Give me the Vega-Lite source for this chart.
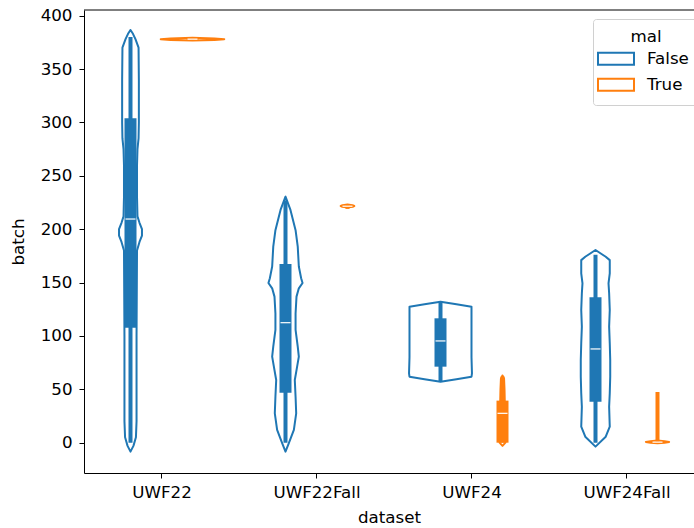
{
  "$schema": "https://vega.github.io/schema/vega-lite/v6.json",
  "width": 610,
  "height": 463,
  "autosize": {"type": "none"},
  "padding": {"left": 84, "top": 10, "right": 0, "bottom": 55},
  "config": {
    "view": {"stroke": null},
    "font": "DejaVu Sans",
    "axis": {
      "labelFont": "DejaVu Sans", "titleFont": "DejaVu Sans",
      "labelFontSize": 16.7, "titleFontSize": 16.7,
      "labelColor": "black", "titleColor": "black", "titleFontWeight": "normal",
      "domainColor": "black", "tickColor": "black", "tickSize": 5, "tickWidth": 1, "domainWidth": 1,
      "grid": false
    },
    "legend": {
      "labelFont": "DejaVu Sans", "titleFont": "DejaVu Sans",
      "labelFontSize": 16.7, "titleFontSize": 16.7, "titleFontWeight": "normal",
      "labelColor": "black", "titleColor": "black"
    }
  },
  "datasets": {
    "violin": [
      {"dataset": "UWF22", "mal": "False", "batch": -8.4, "w": 0},
      {"dataset": "UWF22", "mal": "False", "batch": -3, "w": 0.019},
      {"dataset": "UWF22", "mal": "False", "batch": 5, "w": 0.035},
      {"dataset": "UWF22", "mal": "False", "batch": 20, "w": 0.039},
      {"dataset": "UWF22", "mal": "False", "batch": 100, "w": 0.039},
      {"dataset": "UWF22", "mal": "False", "batch": 180, "w": 0.042},
      {"dataset": "UWF22", "mal": "False", "batch": 188, "w": 0.058},
      {"dataset": "UWF22", "mal": "False", "batch": 194, "w": 0.074},
      {"dataset": "UWF22", "mal": "False", "batch": 200, "w": 0.074},
      {"dataset": "UWF22", "mal": "False", "batch": 206, "w": 0.058},
      {"dataset": "UWF22", "mal": "False", "batch": 212, "w": 0.045},
      {"dataset": "UWF22", "mal": "False", "batch": 230, "w": 0.042},
      {"dataset": "UWF22", "mal": "False", "batch": 260, "w": 0.042},
      {"dataset": "UWF22", "mal": "False", "batch": 275, "w": 0.045},
      {"dataset": "UWF22", "mal": "False", "batch": 285, "w": 0.052},
      {"dataset": "UWF22", "mal": "False", "batch": 300, "w": 0.054},
      {"dataset": "UWF22", "mal": "False", "batch": 340, "w": 0.054},
      {"dataset": "UWF22", "mal": "False", "batch": 370, "w": 0.052},
      {"dataset": "UWF22", "mal": "False", "batch": 378, "w": 0.032},
      {"dataset": "UWF22", "mal": "False", "batch": 383, "w": 0.016},
      {"dataset": "UWF22", "mal": "False", "batch": 386.6, "w": 0},
      {"dataset": "UWF22", "mal": "True", "batch": 376.8, "w": 0},
      {"dataset": "UWF22", "mal": "True", "batch": 377.3, "w": 0.142},
      {"dataset": "UWF22", "mal": "True", "batch": 378, "w": 0.205},
      {"dataset": "UWF22", "mal": "True", "batch": 378.7, "w": 0.142},
      {"dataset": "UWF22", "mal": "True", "batch": 379.2, "w": 0},
      {"dataset": "UWF22Fall", "mal": "False", "batch": -8.4, "w": 0},
      {"dataset": "UWF22Fall", "mal": "False", "batch": -0.6, "w": 0.021},
      {"dataset": "UWF22Fall", "mal": "False", "batch": 11.9, "w": 0.054},
      {"dataset": "UWF22Fall", "mal": "False", "batch": 27.5, "w": 0.069},
      {"dataset": "UWF22Fall", "mal": "False", "batch": 43, "w": 0.065},
      {"dataset": "UWF22Fall", "mal": "False", "batch": 58.7, "w": 0.06},
      {"dataset": "UWF22Fall", "mal": "False", "batch": 71.2, "w": 0.075},
      {"dataset": "UWF22Fall", "mal": "False", "batch": 80.6, "w": 0.086},
      {"dataset": "UWF22Fall", "mal": "False", "batch": 90, "w": 0.079},
      {"dataset": "UWF22Fall", "mal": "False", "batch": 105.6, "w": 0.065},
      {"dataset": "UWF22Fall", "mal": "False", "batch": 121, "w": 0.065},
      {"dataset": "UWF22Fall", "mal": "False", "batch": 136.8, "w": 0.071},
      {"dataset": "UWF22Fall", "mal": "False", "batch": 144.6, "w": 0.086},
      {"dataset": "UWF22Fall", "mal": "False", "batch": 149.6, "w": 0.11},
      {"dataset": "UWF22Fall", "mal": "False", "batch": 154, "w": 0.101},
      {"dataset": "UWF22Fall", "mal": "False", "batch": 165, "w": 0.086},
      {"dataset": "UWF22Fall", "mal": "False", "batch": 183.6, "w": 0.079},
      {"dataset": "UWF22Fall", "mal": "False", "batch": 199, "w": 0.065},
      {"dataset": "UWF22Fall", "mal": "False", "batch": 218, "w": 0.032},
      {"dataset": "UWF22Fall", "mal": "False", "batch": 230.5, "w": 0},
      {"dataset": "UWF22Fall", "mal": "True", "batch": 220.3, "w": 0},
      {"dataset": "UWF22Fall", "mal": "True", "batch": 221, "w": 0.032},
      {"dataset": "UWF22Fall", "mal": "True", "batch": 221.7, "w": 0.044},
      {"dataset": "UWF22Fall", "mal": "True", "batch": 222.4, "w": 0.032},
      {"dataset": "UWF22Fall", "mal": "True", "batch": 223, "w": 0},
      {"dataset": "UWF24", "mal": "False", "batch": 57.1, "w": 0},
      {"dataset": "UWF24", "mal": "False", "batch": 59.5, "w": 0.103},
      {"dataset": "UWF24", "mal": "False", "batch": 61.8, "w": 0.2},
      {"dataset": "UWF24", "mal": "False", "batch": 65, "w": 0.203},
      {"dataset": "UWF24", "mal": "False", "batch": 80, "w": 0.2},
      {"dataset": "UWF24", "mal": "False", "batch": 100, "w": 0.2},
      {"dataset": "UWF24", "mal": "False", "batch": 120, "w": 0.2},
      {"dataset": "UWF24", "mal": "False", "batch": 127.4, "w": 0.2},
      {"dataset": "UWF24", "mal": "False", "batch": 129.7, "w": 0.103},
      {"dataset": "UWF24", "mal": "False", "batch": 132, "w": 0},
      {"dataset": "UWF24", "mal": "True", "batch": -3, "w": 0},
      {"dataset": "UWF24", "mal": "True", "batch": 0, "w": 0.019},
      {"dataset": "UWF24", "mal": "True", "batch": 10, "w": 0.019},
      {"dataset": "UWF24", "mal": "True", "batch": 30, "w": 0.016},
      {"dataset": "UWF24", "mal": "True", "batch": 50, "w": 0.013},
      {"dataset": "UWF24", "mal": "True", "batch": 60, "w": 0.01},
      {"dataset": "UWF24", "mal": "True", "batch": 63, "w": 0},
      {"dataset": "UWF24Fall", "mal": "False", "batch": -3.7, "w": 0},
      {"dataset": "UWF24Fall", "mal": "False", "batch": 5.6, "w": 0.066},
      {"dataset": "UWF24Fall", "mal": "False", "batch": 15, "w": 0.092},
      {"dataset": "UWF24Fall", "mal": "False", "batch": 33.7, "w": 0.088},
      {"dataset": "UWF24Fall", "mal": "False", "batch": 46.3, "w": 0.092},
      {"dataset": "UWF24Fall", "mal": "False", "batch": 61.8, "w": 0.095},
      {"dataset": "UWF24Fall", "mal": "False", "batch": 77.5, "w": 0.095},
      {"dataset": "UWF24Fall", "mal": "False", "batch": 93.1, "w": 0.092},
      {"dataset": "UWF24Fall", "mal": "False", "batch": 108.7, "w": 0.088},
      {"dataset": "UWF24Fall", "mal": "False", "batch": 124.3, "w": 0.092},
      {"dataset": "UWF24Fall", "mal": "False", "batch": 140, "w": 0.088},
      {"dataset": "UWF24Fall", "mal": "False", "batch": 149.3, "w": 0.084},
      {"dataset": "UWF24Fall", "mal": "False", "batch": 158.7, "w": 0.092},
      {"dataset": "UWF24Fall", "mal": "False", "batch": 171, "w": 0.092},
      {"dataset": "UWF24Fall", "mal": "False", "batch": 174.2, "w": 0.066},
      {"dataset": "UWF24Fall", "mal": "False", "batch": 180.5, "w": 0},
      {"dataset": "UWF24Fall", "mal": "True", "batch": -0.6, "w": 0},
      {"dataset": "UWF24Fall", "mal": "True", "batch": 0, "w": 0.045},
      {"dataset": "UWF24Fall", "mal": "True", "batch": 0.7, "w": 0.075},
      {"dataset": "UWF24Fall", "mal": "True", "batch": 1.4, "w": 0.045},
      {"dataset": "UWF24Fall", "mal": "True", "batch": 2, "w": 0}
    ],
    "box": [
      {"dataset": "UWF22", "mal": "False", "wlo": 0, "whi": 380, "q1": 107.7, "q3": 303.9, "med": 209.5},
      {"dataset": "UWF22", "mal": "True", "wlo": 377, "whi": 379, "q1": 377.6, "q3": 378.4, "med": 378},
      {"dataset": "UWF22Fall", "mal": "False", "wlo": 0, "whi": 227, "q1": 46.8, "q3": 167.4, "med": 112.4},
      {"dataset": "UWF22Fall", "mal": "True", "wlo": 219, "whi": 222.5, "q1": 220.5, "q3": 222, "med": 221.5},
      {"dataset": "UWF24", "mal": "False", "wlo": 57.5, "whi": 131.5, "q1": 71.2, "q3": 116.5, "med": 95.3},
      {"dataset": "UWF24", "mal": "True", "wlo": 0, "whi": 62, "q1": 0, "q3": 39.4, "med": 27.5},
      {"dataset": "UWF24Fall", "mal": "False", "wlo": 0, "whi": 176, "q1": 38.4, "q3": 136.2, "med": 87.8},
      {"dataset": "UWF24Fall", "mal": "True", "wlo": 0, "whi": 47.5, "q1": 0, "q3": 0.8, "med": 0.5}
    ]
  },
  "layer": [
    {
      "data": {"name": "violin"},
      "transform": [
        {"calculate": "indexof(['UWF22','UWF22Fall','UWF24','UWF24Fall'], datum.dataset) + (datum.mal === 'True' ? 0.2 : -0.2)", "as": "pos"},
        {"calculate": "datum.pos - datum.w", "as": "lo"},
        {"calculate": "datum.pos + datum.w", "as": "hi"}
      ],
      "mark": {"type": "area", "orient": "horizontal", "filled": false, "strokeWidth": 2, "strokeJoin": "round"},
      "encoding": {
        "y": {"field": "batch", "type": "quantitative",
              "scale": {"domain": [-28.4, 405.3], "nice": false, "zero": false},
              "axis": {"values": [0, 50, 100, 150, 200, 250, 300, 350, 400], "title": "batch", "labelPadding": 7, "titlePadding": 13}},
        "x": {"field": "lo", "type": "quantitative",
              "scale": {"domain": [-0.5, 3.4355], "nice": false, "zero": false},
              "axis": {"values": [0, 1, 2, 3], "labelExpr": "['UWF22','UWF22Fall','UWF24','UWF24Fall'][datum.value]", "title": "dataset", "labelPadding": 6, "titlePadding": 9}},
        "x2": {"field": "hi"},
        "color": {"field": "mal", "type": "nominal",
                  "scale": {"domain": ["False", "True"], "range": ["#1f77b4", "#ff7f0e"]},
                  "legend": {"orient": "none", "legendX": 509, "legendY": 9, "title": "mal", "titleAnchor": "middle",
                             "symbolType": "M-1.5,-0.5H1.5V0.5H-1.5Z", "symbolSize": 576, "symbolStrokeWidth": 2,
                             "symbolFillColor": "transparent", "labelOffset": 18, "rowPadding": 3, "padding": 10,
                             "fillColor": "white", "strokeColor": "#d0d0d0", "cornerRadius": 3, "titlePadding": 0}},
        "detail": {"field": "dataset"}
      }
    },
    {
      "data": {"name": "box"},
      "transform": [
        {"calculate": "indexof(['UWF22','UWF22Fall','UWF24','UWF24Fall'], datum.dataset) + (datum.mal === 'True' ? 0.2 : -0.2)", "as": "pos"}
      ],
      "mark": {"type": "rule", "strokeWidth": 4, "strokeCap": "butt"},
      "encoding": {
        "x": {"field": "pos", "type": "quantitative"},
        "y": {"field": "wlo", "type": "quantitative"},
        "y2": {"field": "whi"},
        "color": {"field": "mal", "type": "nominal", "legend": null}
      }
    },
    {
      "data": {"name": "box"},
      "transform": [
        {"calculate": "indexof(['UWF22','UWF22Fall','UWF24','UWF24Fall'], datum.dataset) + (datum.mal === 'True' ? 0.2 : -0.2)", "as": "pos"}
      ],
      "mark": {"type": "rule", "strokeWidth": 12, "strokeCap": "butt"},
      "encoding": {
        "x": {"field": "pos", "type": "quantitative"},
        "y": {"field": "q1", "type": "quantitative"},
        "y2": {"field": "q3"},
        "color": {"field": "mal", "type": "nominal", "legend": null}
      }
    },
    {
      "data": {"name": "box"},
      "transform": [
        {"calculate": "indexof(['UWF22','UWF22Fall','UWF24','UWF24Fall'], datum.dataset) + (datum.mal === 'True' ? 0.2 : -0.2)", "as": "pos"}
      ],
      "mark": {"type": "point", "shape": "M-1,-0.12H1V0.12H-1Z", "filled": true, "color": "white", "size": 100, "opacity": 1, "strokeWidth": 0},
      "encoding": {
        "x": {"field": "pos", "type": "quantitative"},
        "y": {"field": "med", "type": "quantitative"}
      }
    },
    {
      "data": {"values": [{}]},
      "mark": {"type": "rule", "color": "black", "strokeWidth": 1},
      "encoding": {"y": {"datum": 405.3, "type": "quantitative"}}
    }
  ]
}
